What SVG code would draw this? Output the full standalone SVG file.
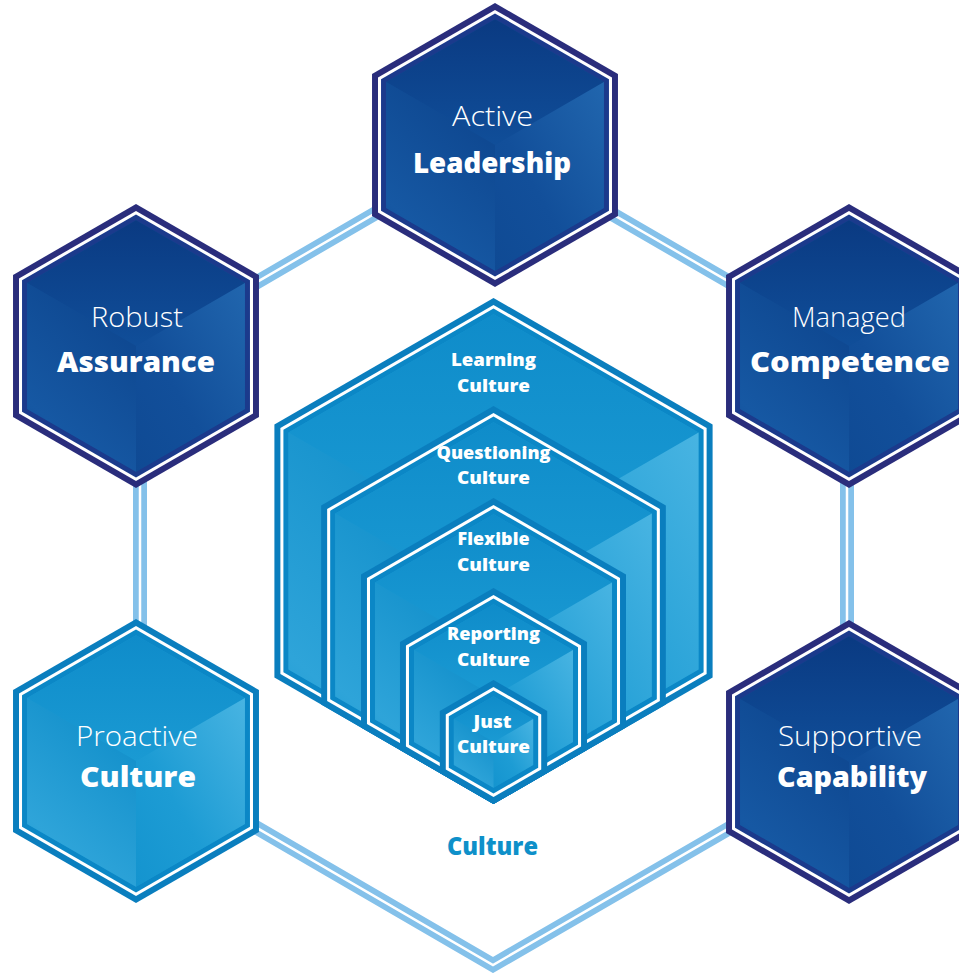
<svg xmlns="http://www.w3.org/2000/svg" xmlns:xlink="http://www.w3.org/1999/xlink" width="959" height="973" viewBox="0 0 959 973">
<style>
.lbl{font-family:"Open Sans","Liberation Sans",sans-serif;fill:#fff;text-anchor:middle}
.lt{font-size:27px;font-weight:300}
.bd{font-size:28.5px;font-weight:800}
.sm{font-size:18px;font-weight:800}
.db{fill:#2a2d7c}.dw{fill:#fff}.di{fill:#1b3a8c}.df{fill:#0f4b95}
.dt{fill:url(#gDt)}.dr{fill:url(#gDr)}.dl{fill:url(#gDl)}
.lb{fill:#0a7ebe}.li{fill:#0b87c6}.lf{fill:#1797d1}
.ltp{fill:url(#gLt)}.lr{fill:url(#gLr)}.ll{fill:url(#gLl)}
.conn{fill:none;stroke-linejoin:miter}
</style>
<defs>
<polygon id="hx" points="0,-1 0.866,-0.5 0.866,0.5 0,1 -0.866,0.5 -0.866,-0.5"/>
<polygon id="ft" points="0,-1 0.866,-0.5 0,0 -0.866,-0.5"/>
<polygon id="fr" points="0.866,-0.5 0.866,0.5 0,1 0,0"/>
<polygon id="fl" points="-0.866,-0.5 0,0 0,1 -0.866,0.5"/>
<linearGradient id="gDt" x1="0" y1="0" x2="0" y2="1"><stop offset="0" stop-color="#0a3a82"/><stop offset="1" stop-color="#104e99"/></linearGradient>
<linearGradient id="gDr" x1="1" y1="0" x2="0" y2="1"><stop offset="0" stop-color="#2166ae"/><stop offset="0.6" stop-color="#124f9a"/><stop offset="1" stop-color="#0f4a94"/></linearGradient>
<linearGradient id="gDl" x1="0.5" y1="0" x2="0" y2="1"><stop offset="0" stop-color="#0e4790"/><stop offset="0.7" stop-color="#1658a3"/><stop offset="1" stop-color="#0f4b95"/></linearGradient>
<linearGradient id="gLt" x1="0" y1="0" x2="0" y2="1"><stop offset="0" stop-color="#0f8cca"/><stop offset="1" stop-color="#1a9ad3"/></linearGradient>
<linearGradient id="gLr" x1="1" y1="0" x2="0" y2="1"><stop offset="0" stop-color="#48b4e2"/><stop offset="0.6" stop-color="#1d9cd4"/><stop offset="1" stop-color="#1494cf"/></linearGradient>
<linearGradient id="gLl" x1="0.5" y1="0" x2="0" y2="1"><stop offset="0" stop-color="#1390cb"/><stop offset="0.7" stop-color="#2ea4d9"/><stop offset="1" stop-color="#1797d1"/></linearGradient>
<g id="darkNode">
<use xlink:href="#hx" class="db" transform="scale(142)"/>
<use xlink:href="#hx" class="dw" transform="scale(135.1)"/>
<use xlink:href="#hx" class="di" transform="scale(131.6)"/>
<use xlink:href="#hx" class="df" transform="scale(125.8)"/>
<use xlink:href="#ft" class="dt" transform="scale(125.8)"/>
<use xlink:href="#fr" class="dr" transform="scale(125.8)"/>
<use xlink:href="#fl" class="dl" transform="scale(125.8)"/>
</g>
<g id="lightNode">
<use xlink:href="#hx" class="lb" transform="scale(142)"/>
<use xlink:href="#hx" class="dw" transform="scale(135.1)"/>
<use xlink:href="#hx" class="li" transform="scale(131.6)"/>
<use xlink:href="#hx" class="lf" transform="scale(125.8)"/>
<use xlink:href="#ft" class="ltp" transform="scale(125.8)"/>
<use xlink:href="#fr" class="lr" transform="scale(125.8)"/>
<use xlink:href="#fl" class="ll" transform="scale(125.8)"/>
</g>
</defs>
<rect width="959" height="973" fill="#fff"/>

<g id="connectors">
<polygon class="conn" points="493,145 847,350 847,760 493,965 140,760 140,350" stroke="#84c1ea" stroke-width="14"/>
<polygon class="conn" points="493,145 847,350 847,760 493,965 140,760 140,350" stroke="#fff" stroke-width="2.5"/>
</g>

<g id="active-leadership">
<use xlink:href="#darkNode" transform="translate(495 145)"/>
<text class="lbl lt" x="492.5" y="126" textLength="81" lengthAdjust="spacingAndGlyphs">Active</text>
<text class="lbl bd" x="492" y="173" textLength="158" lengthAdjust="spacingAndGlyphs">Leadership</text>
</g>

<g id="robust-assurance">
<use xlink:href="#darkNode" transform="translate(136 346)"/>
<text class="lbl lt" x="137" y="327" textLength="92" lengthAdjust="spacingAndGlyphs">Robust</text>
<text class="lbl bd" x="136" y="372" textLength="158" lengthAdjust="spacingAndGlyphs">Assurance</text>
</g>

<g id="managed-competence">
<use xlink:href="#darkNode" transform="translate(849 346)"/>
<text class="lbl lt" x="849" y="327" textLength="114" lengthAdjust="spacingAndGlyphs">Managed</text>
<text class="lbl bd" x="850" y="372" textLength="200" lengthAdjust="spacingAndGlyphs">Competence</text>
</g>

<g id="proactive-culture">
<use xlink:href="#lightNode" transform="translate(136 761)"/>
<text class="lbl lt" x="137" y="746" textLength="122" lengthAdjust="spacingAndGlyphs">Proactive</text>
<text class="lbl bd" x="138" y="787" textLength="116" lengthAdjust="spacingAndGlyphs">Culture</text>
</g>

<g id="supportive-capability">
<use xlink:href="#darkNode" transform="translate(849 762)"/>
<text class="lbl lt" x="850" y="746" textLength="144" lengthAdjust="spacingAndGlyphs">Supportive</text>
<text class="lbl bd" x="852" y="787" textLength="150" lengthAdjust="spacingAndGlyphs">Capability</text>
</g>

<g id="culture">
<g id="learning-culture">
<use xlink:href="#hx" class="lb" transform="translate(493.5 551) scale(253)"/>
<use xlink:href="#hx" class="dw" transform="translate(493.5 551) scale(246.1)"/>
<use xlink:href="#hx" class="li" transform="translate(493.5 551) scale(242.6)"/>
<use xlink:href="#hx" class="lf" transform="translate(493.5 551) scale(236.8)"/>
<use xlink:href="#ft" class="ltp" transform="translate(493.5 551) scale(236.8)"/>
<use xlink:href="#fr" class="lr" transform="translate(493.5 551) scale(236.8)"/>
<use xlink:href="#fl" class="ll" transform="translate(493.5 551) scale(236.8)"/>
<text class="lbl sm" x="493.5" y="366" textLength="85" lengthAdjust="spacingAndGlyphs">Learning</text>
<text class="lbl sm" x="493.5" y="391.5" textLength="73" lengthAdjust="spacingAndGlyphs">Culture</text>
</g>
<g id="questioning-culture">
<use xlink:href="#hx" class="lb" transform="translate(493.5 605) scale(199)"/>
<use xlink:href="#hx" class="dw" transform="translate(493.5 605) scale(192.1)"/>
<use xlink:href="#hx" class="li" transform="translate(493.5 605) scale(188.6)"/>
<use xlink:href="#hx" class="lf" transform="translate(493.5 605) scale(182.8)"/>
<use xlink:href="#ft" class="ltp" transform="translate(493.5 605) scale(182.8)"/>
<use xlink:href="#fr" class="lr" transform="translate(493.5 605) scale(182.8)"/>
<use xlink:href="#fl" class="ll" transform="translate(493.5 605) scale(182.8)"/>
<text class="lbl sm" x="493.5" y="458.5" textLength="114" lengthAdjust="spacingAndGlyphs">Questioning</text>
<text class="lbl sm" x="493.5" y="484" textLength="73" lengthAdjust="spacingAndGlyphs">Culture</text>
</g>
<g id="flexible-culture">
<use xlink:href="#hx" class="lb" transform="translate(493.5 651) scale(153)"/>
<use xlink:href="#hx" class="dw" transform="translate(493.5 651) scale(146.1)"/>
<use xlink:href="#hx" class="li" transform="translate(493.5 651) scale(142.6)"/>
<use xlink:href="#hx" class="lf" transform="translate(493.5 651) scale(136.8)"/>
<use xlink:href="#ft" class="ltp" transform="translate(493.5 651) scale(136.8)"/>
<use xlink:href="#fr" class="lr" transform="translate(493.5 651) scale(136.8)"/>
<use xlink:href="#fl" class="ll" transform="translate(493.5 651) scale(136.8)"/>
<text class="lbl sm" x="493.5" y="545" textLength="72" lengthAdjust="spacingAndGlyphs">Flexible</text>
<text class="lbl sm" x="493.5" y="570.5" textLength="73" lengthAdjust="spacingAndGlyphs">Culture</text>
</g>
<g id="reporting-culture">
<use xlink:href="#hx" class="lb" transform="translate(493.5 696) scale(108)"/>
<use xlink:href="#hx" class="dw" transform="translate(493.5 696) scale(101.1)"/>
<use xlink:href="#hx" class="li" transform="translate(493.5 696) scale(97.6)"/>
<use xlink:href="#hx" class="lf" transform="translate(493.5 696) scale(91.8)"/>
<use xlink:href="#ft" class="ltp" transform="translate(493.5 696) scale(91.8)"/>
<use xlink:href="#fr" class="lr" transform="translate(493.5 696) scale(91.8)"/>
<use xlink:href="#fl" class="ll" transform="translate(493.5 696) scale(91.8)"/>
<text class="lbl sm" x="493.5" y="640" textLength="93" lengthAdjust="spacingAndGlyphs">Reporting</text>
<text class="lbl sm" x="493.5" y="665.5" textLength="73" lengthAdjust="spacingAndGlyphs">Culture</text>
</g>
<g id="just-culture">
<use xlink:href="#hx" class="lb" transform="translate(493.5 742) scale(62)"/>
<use xlink:href="#hx" class="dw" transform="translate(493.5 742) scale(55.1)"/>
<use xlink:href="#hx" class="li" transform="translate(493.5 742) scale(51.6)"/>
<use xlink:href="#hx" class="lf" transform="translate(493.5 742) scale(45.8)"/>
<use xlink:href="#ft" class="ltp" transform="translate(493.5 742) scale(45.8)"/>
<use xlink:href="#fr" class="lr" transform="translate(493.5 742) scale(45.8)"/>
<use xlink:href="#fl" class="ll" transform="translate(493.5 742) scale(45.8)"/>
<text class="lbl sm" x="492.5" y="727.5" textLength="38" lengthAdjust="spacingAndGlyphs">Just</text>
<text class="lbl sm" x="493.5" y="753" textLength="73" lengthAdjust="spacingAndGlyphs">Culture</text>
</g>
<text class="lbl" x="492.5" y="855" textLength="91" lengthAdjust="spacingAndGlyphs" style="font-size:25px;font-weight:800;fill:#0e90c9">Culture</text>
</g>
</svg>
